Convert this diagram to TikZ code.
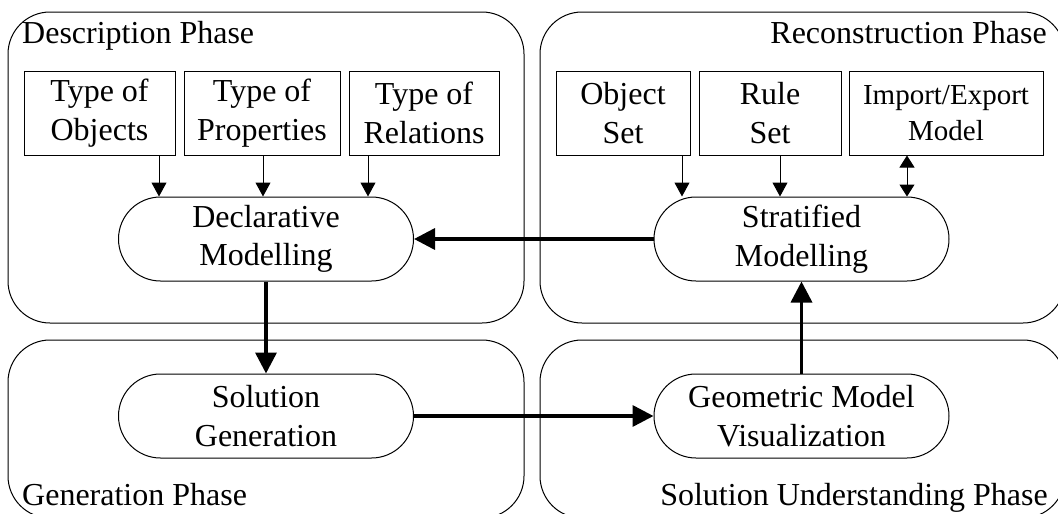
\documentclass[tikz,border=0pt]{standalone}
\usepackage{fontspec}
\setmainfont{Liberation Serif}
\usetikzlibrary{arrows.meta}
\begin{document}
\begin{tikzpicture}[x=1pt, y=-1pt]
  \tikzstyle{phase} = [draw=black, line width=1pt, rounded corners=42pt];
  \tikzstyle{item} = [draw=black, line width=1pt, align=center, inner sep=0pt, minimum height=84pt, font=\fontsize{32}{38.5}\selectfont];
  \tikzstyle{stage} = [item, rounded corners=42pt, minimum width=295pt];
  \tikzstyle{phase_label} = [font=\fontsize{32}{38.5}\selectfont, inner sep=0pt];
  \tikzstyle{thin_arrow} = [line width=1pt, -{Triangle[length=14pt, width=15pt]}];
  \tikzstyle{thick_arrow} = [line width=3.5pt, -{Triangle[length=21pt, width=21pt]}];

  \useasboundingbox (0, 0) rectangle (1058, 514);

  % phases
  \node[phase, minimum width=516pt, minimum height=311pt] (description) at (266, 167.5) {};
  \node[phase, minimum width=525pt, minimum height=311pt] (reconstruction) at (802.5, 167.5) {};
  \node[phase, minimum width=516pt, minimum height=178pt] (generation) at (266, 429) {};
  \node[phase, minimum width=525pt, minimum height=178pt] (understanding) at (802.5, 429) {};

  \node[phase_label, anchor=base west] (description_label)    at (22, 43)    {Description Phase};
  \node[phase_label, anchor=base east] (reconstruction_label) at (1047, 43)  {Reconstruction Phase};
  \node[phase_label, anchor=base west] (generation_label)     at (22, 505)   {Generation Phase};
  \node[phase_label, anchor=base east] (understanding_label)  at (1048, 505) {Solution Understanding Phase};

  % inputs
  \node[item, minimum width=151pt] (object_type)   at (99.5, 113) {Type of\\Objects};
  \node[item, minimum width=156pt] (property_type) at (262, 113)  {Type of\\Properties};
  \node[item, minimum width=150pt] (relation_type) at (424, 113)  {Type of\\Relations};

  \node[item, minimum width=134pt] (object_set) at (623, 113) {Object\\Set};
  \node[item, minimum width=142pt] (rule_set)   at (770, 113) {Rule\\Set};
  \node[item, minimum width=194pt, font=\fontsize{29}{36}\selectfont] (import_export) at (946, 113) {Import/Export\\Model};

  % stages
  \node[stage] (declarative) at (266, 239)   {Declarative\\Modelling};
  \node[stage] (stratified)  at (801.5, 239) {Stratified\\Modelling};
  \node[stage] (solution)    at (266, 416)   {Solution\\Generation};
  \node[stage] (geometric)   at (801.5, 416) {Geometric Model\\Visualization};

  \draw[thin_arrow] (object_type.south -| 159,0)   -- (declarative.north -| 159,0);
  \draw[thin_arrow] (property_type.south -| 263,0) -- (declarative.north -| 263,0);
  \draw[thin_arrow] (relation_type.south -| 368,0) -- (declarative.north -| 368,0);

  \draw[thin_arrow] (object_set.south -| 682,0) -- (stratified.north -| 682,0);
  \draw[thin_arrow] (rule_set.south -| 780,0)   -- (stratified.north -| 780,0);
  \draw[line width=1pt, {Triangle[length=12pt, width=15pt]}-{Triangle[length=12pt, width=15pt]}]
    (import_export.south -| 907,0) -- (stratified.north -| 907,0);

  \draw[thick_arrow] (stratified.west)  -- (declarative.east);
  \draw[thick_arrow] (declarative.south) -- (solution.north);
  \draw[thick_arrow] (solution.east)    -- (geometric.west);
  \draw[thick_arrow] (geometric.north)  -- (stratified.south);
\end{tikzpicture}
\end{document}
